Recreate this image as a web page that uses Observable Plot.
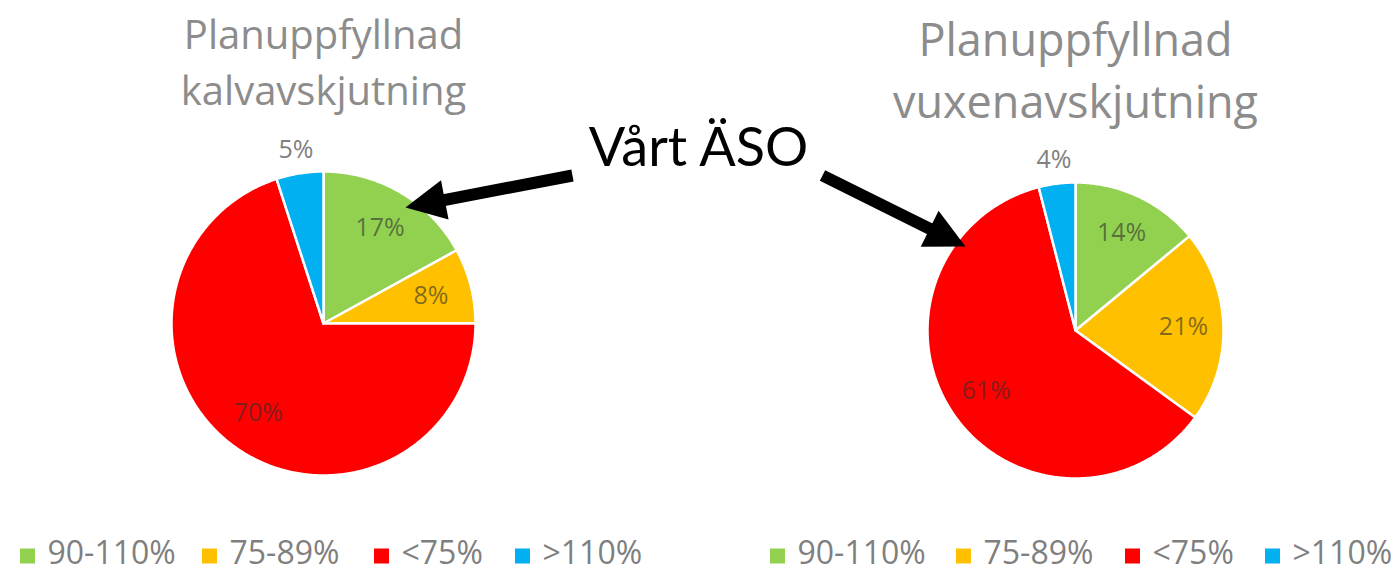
<!DOCTYPE html>
<html><head><meta charset="utf-8">
<script src="https://cdn.jsdelivr.net/npm/d3@7"></script>
<script src="https://cdn.jsdelivr.net/npm/@observablehq/plot@0.6"></script>
<style>body{margin:0;background:#fff}#chart svg{display:block}</style>
</head><body><div id="chart"></div>
<script>
// ---- data ----
const categories = ["90-110%", "75-89%", "<75%", ">110%"];
const colors = ["#92D050", "#FFC000", "#FF0000", "#00B0F0"];
const calfValues = [17, 8, 70, 5];
const adultValues = [14, 21, 61, 4];
const calfTitle = ["Planuppfyllnad", "kalvavskjutning"];
const adultTitle = ["Planuppfyllnad", "vuxenavskjutning"];
const annotationText = "Vårt ÄSO";

// ---- layout ----
const W = 1395, H = 572;
const pies = [
  {values: calfValues, title: calfTitle, cx: 323, cy: 323, r: 152, titleY: [48, 104], titleSize: 40,
   legendSq: [20, 202, 374, 515]},
  {values: adultValues, title: adultTitle, cx: 1075, cy: 330, r: 148, titleY: [55, 117], titleSize: 45,
   legendSq: [770, 956, 1125, 1265]}
];
const legendY = 556, sq = 15;
const arrows = [
  {x1: 572, y1: 175, x2: 405, y2: 207},
  {x1: 822, y1: 175, x2: 965, y2: 246}
];
const annot = {x: 698, y: 165};

// ---- build geometry ----
const slicePts = [], labels = [], titleRows = [], legendRects = [], legendTexts = [];
pies.forEach((p, pi) => {
  const arcs = d3.pie().sort(null)(p.values);
  arcs.forEach((a, i) => {
    const key = pi + "-" + i;
    slicePts.push({key, x: p.cx, y: p.cy, color: colors[i]});
    const n = Math.max(2, Math.ceil((a.endAngle - a.startAngle) / 0.01));
    for (let k = 0; k <= n; k++) {
      const t = a.startAngle + (a.endAngle - a.startAngle) * k / n;
      slicePts.push({key, x: p.cx + p.r * Math.sin(t), y: p.cy - p.r * Math.cos(t), color: colors[i]});
    }
    const mid = (a.startAngle + a.endAngle) / 2;
    const outside = a.data < 6;
    const lr = outside ? p.r + 24 : p.r * 0.73;
    labels.push({x: p.cx + lr * Math.sin(mid), y: p.cy - lr * Math.cos(mid), text: a.data + "%", outside});
  });
  p.title.forEach((t, j) => titleRows.push({x: p.cx, y: p.titleY[j], text: t, size: p.titleSize}));
  categories.forEach((c, i) => {
    legendRects.push({x1: p.legendSq[i], x2: p.legendSq[i] + sq, y1: legendY - sq / 2, y2: legendY + sq / 2, color: colors[i]});
    legendTexts.push({x: p.legendSq[i] + 27, y: legendY - 3, text: c});
  });
});

// arrows: shaft + filled head
const shafts = [], heads = [];
arrows.forEach((a, i) => {
  const dx = a.x2 - a.x1, dy = a.y2 - a.y1, L = Math.hypot(dx, dy);
  const ux = dx / L, uy = dy / L, hl = 40, hw = 20;
  const bx = a.x2 - ux * hl, by = a.y2 - uy * hl;
  shafts.push({x1: a.x1, y1: a.y1, x2: bx + ux * 2, y2: by + uy * 2});
  heads.push({k: i, x: a.x2, y: a.y2});
  heads.push({k: i, x: bx - uy * hw, y: by + ux * hw});
  heads.push({k: i, x: bx + uy * hw, y: by - ux * hw});
});

const chart = Plot.plot({
  width: W, height: H,
  margin: 0,
  x: {type: "identity", axis: null},
  y: {type: "identity", axis: null},
  color: {type: "identity"},
  style: {background: "#fff"},
  marks: [
    Plot.line(slicePts, {x: "x", y: "y", z: "key", fill: "color", stroke: "white", strokeWidth: 2.5, curve: "linear-closed", strokeLinejoin: "round"}),
    Plot.text(labels.filter(d => !d.outside), {x: "x", y: "y", text: "text", fontSize: 25, fill: "#303030", fillOpacity: 0.6, fontFamily: "Open Sans"}),
    Plot.text(labels.filter(d => d.outside), {x: "x", y: "y", text: "text", fontSize: 25, fill: "#7f7f7f", fontFamily: "Open Sans"}),
    Plot.text(titleRows, {x: "x", y: "y", text: "text", fontSize: d => d.size, fill: "#8c8c8c", fontFamily: "Open Sans", lineAnchor: "bottom"}),
    Plot.rect(legendRects, {x1: "x1", x2: "x2", y1: "y1", y2: "y2", fill: "color"}),
    Plot.text(legendTexts, {x: "x", y: "y", text: "text", fontSize: 32, fill: "#7f7f7f", fontFamily: "Open Sans", textAnchor: "start"}),
    Plot.link(shafts, {x1: "x1", y1: "y1", x2: "x2", y2: "y2", stroke: "black", strokeWidth: 12}),
    Plot.line(heads, {x: "x", y: "y", z: "k", fill: "black", stroke: "none", curve: "linear-closed"}),
    Plot.text([annotationText], {x: annot.x, y: annot.y, text: d => d, fontSize: 54, fill: "black", fontFamily: "Lato", lineAnchor: "bottom"})
  ]
});
document.getElementById("chart").append(chart);
</script>
</body></html>
